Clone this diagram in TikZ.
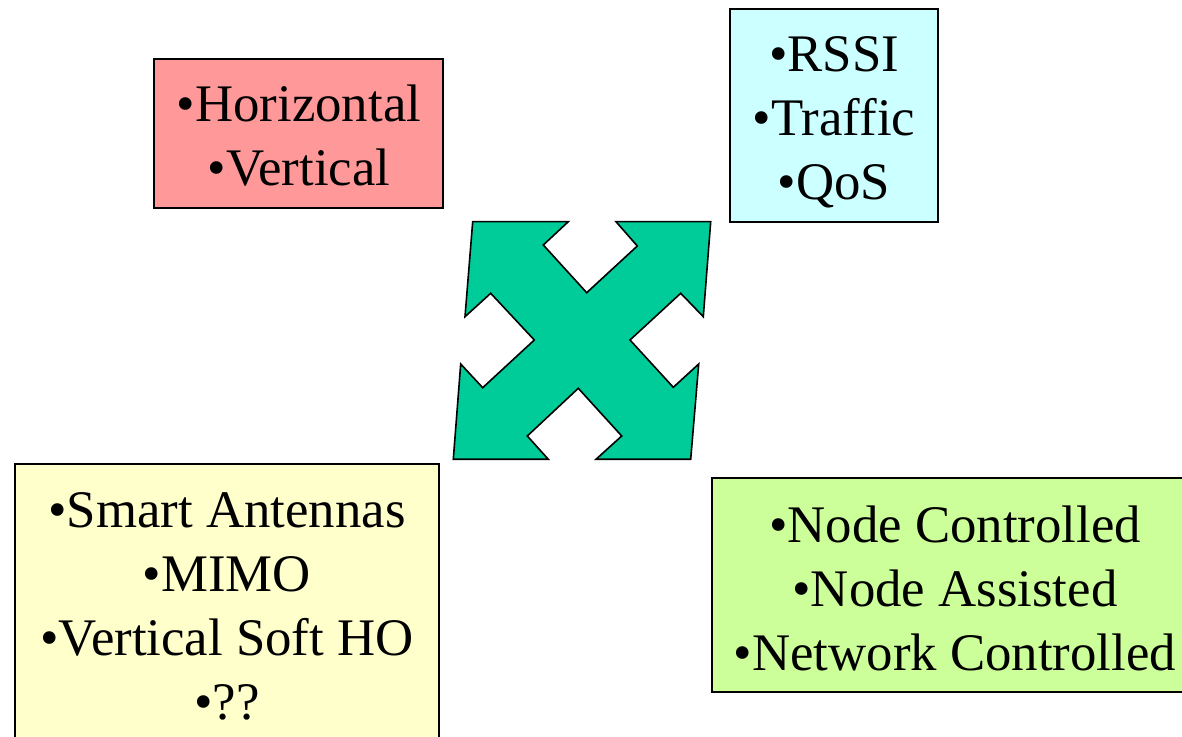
\documentclass[tikz,border=0pt]{standalone}
\usepackage{fontspec}
\setmainfont{Liberation Serif}
\definecolor{redfill}{HTML}{FF9999}
\definecolor{cyanfill}{HTML}{CCFFFF}
\definecolor{yellowfill}{HTML}{FFFFCC}
\definecolor{greenfill}{HTML}{CCFF99}
\definecolor{arrowfill}{HTML}{00CC99}
\begin{document}
\begin{tikzpicture}[x=0.75pt,y=-0.75pt,
  box/.style={draw=black,line width=1.1pt},
  label/.style={font=\fontsize{39.6}{48}\selectfont,align=center,inner sep=0pt},
]
\useasboundingbox (0,0) rectangle (1182,737);
\clip (0,0) rectangle (1182,737);
\fill[white] (0,0) rectangle (1182,737);

% four-way arrow in the middle
\draw[line width=1.2pt,fill=arrowfill,line join=miter]
  (472.7,221.7) -- (568.3,221.7) -- (543.3,245) -- (586.7,292.7)
  -- (637.3,246) -- (616,221.7) -- (710.7,221.7) -- (703.3,316.7)
  -- (680.7,293.3) -- (630,340) -- (673.3,387.3) -- (698.7,364)
  -- (690.7,459.3) -- (596,459.3) -- (621.7,436) -- (578.3,388.3)
  -- (527.3,436) -- (548.3,459.3) -- (453.3,459.3) -- (460.7,364)
  -- (482.7,387.7) -- (534.3,340) -- (490.7,293.3) -- (465,316.7)
  -- cycle;

% boxes
\draw[box,fill=redfill]    (154,59)  rectangle (443,208);
\draw[box,fill=cyanfill]   (730,9)   rectangle (938,222);
\draw[box,fill=yellowfill] (15,464)  rectangle (439,760);
\draw[box,fill=greenfill]  (712,478) rectangle (1198,692);

% box texts
\node[label] (handtype) at (299,136) {•Horizontal\\•Vertical};
\node[label] (metrics)  at (834,122) {•RSSI\\•Traffic\\•QoS};
\node[label] (tech)     at (227,606) {•Smart Antennas\\•MIMO\\•Vertical Soft HO\\•??};
\node[label] (control)  at (955,588) {•Node Controlled\\•Node Assisted\\•Network Controlled};
\end{tikzpicture}
\end{document}
